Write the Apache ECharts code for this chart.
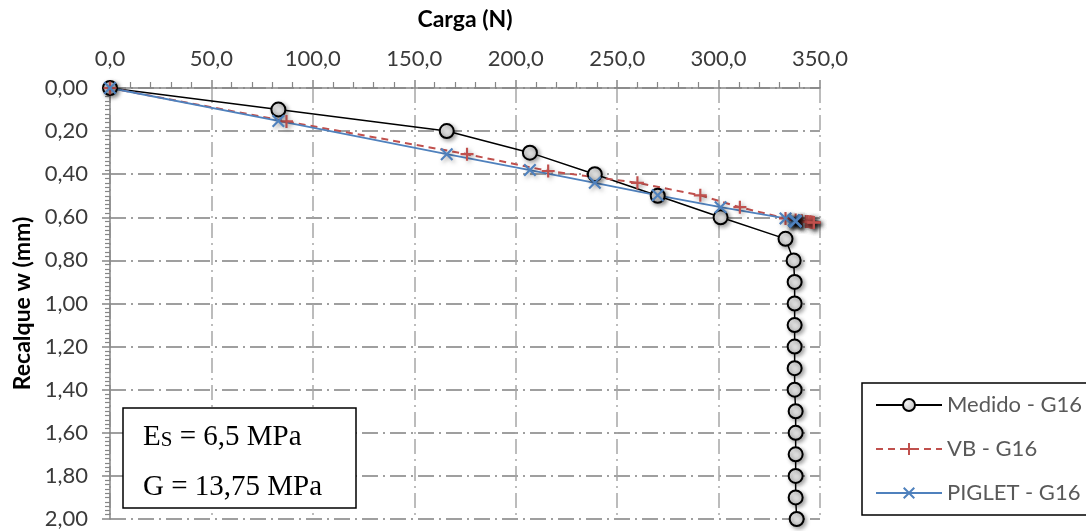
<!DOCTYPE html>
<html><head><meta charset="utf-8">
<script src="https://cdn.jsdelivr.net/npm/echarts@6/dist/echarts.min.js"></script>
<style>html,body{margin:0;padding:0;background:#fff}#c{width:1086px;height:531px}</style>
</head><body><div id="c"></div>
<script>
// ---- data ----
const seriesNames = ['Medido - G16', 'VB - G16', 'PIGLET - G16'];
const medidoX = [0, 83, 166, 207, 239, 270, 301, 333, 337, 337.5, 337.5, 337.5, 337.5, 337.5, 337.5, 338, 338, 338, 338, 338, 338.5];
const medidoY = [0, 0.10, 0.20, 0.30, 0.40, 0.50, 0.60, 0.70, 0.80, 0.90, 1.00, 1.10, 1.20, 1.30, 1.40, 1.50, 1.60, 1.70, 1.80, 1.90, 2.00];
const vbX = [0, 87, 176, 216, 260, 291, 310.5, 333, 338, 341, 343, 344, 345, 345.5, 346, 346.5, 347, 347, 347, 347, 347];
const vbY = [0, 0.155, 0.307, 0.385, 0.44, 0.498, 0.553, 0.605, 0.612, 0.616, 0.619, 0.62, 0.621, 0.622, 0.623, 0.623, 0.624, 0.624, 0.624, 0.624, 0.624];
const pigletX = [0, 83, 166, 207, 239, 270, 301, 333, 337, 337.5, 337.5, 337.5, 337.5, 337.5, 337.5, 338, 338, 338, 338, 338, 338];
const pigletY = [0, 0.153, 0.307, 0.381, 0.44, 0.498, 0.553, 0.605, 0.614, 0.616, 0.617, 0.617, 0.617, 0.617, 0.617, 0.618, 0.618, 0.618, 0.618, 0.618, 0.618];
const xAxisRange = [0, 350, 50];
const yAxisRange = [0, 2, 0.2];
const xTitle = 'Carga (N)';
const yTitle = 'Recalque w (mm)';
const noteLines = ['E', 'S', ' = 6,5 MPa', 'G = 13,75 MPa'];

const pairs = (xs, ys) => xs.map((x, i) => [x, ys[i]]);
const FONT = 'Lato';
const plusPath = 'path://M5,0H7V5H12V7H7V12H5V7H0V5H5Z';
const crossPath = 'path://M1.4,0L6,4.6L10.6,0L12,1.4L7.4,6L12,10.6L10.6,12L6,7.4L1.4,12L0,10.6L4.6,6L0,1.4Z';
const shadow = {shadowBlur: 4, shadowColor: 'rgba(0,0,0,0.35)', shadowOffsetX: 2, shadowOffsetY: 2};

const chart = echarts.init(document.getElementById('c'));
chart.setOption({
  animation: false,
  backgroundColor: '#fff',
  grid: {left: 110, right: 266, top: 88, bottom: 12},
  xAxis: {
    type: 'value', position: 'top', min: xAxisRange[0], max: xAxisRange[1], interval: xAxisRange[2],
    name: xTitle, nameLocation: 'middle', nameGap: 57,
    nameTextStyle: {fontFamily: FONT, fontWeight: 'bold', fontSize: 23, color: '#000'},
    axisLine: {show: true, onZero: false, lineStyle: {color: '#868686', width: 1.5}},
    axisTick: {show: true, inside: false, length: 8, lineStyle: {color: '#868686', width: 1.5}},
    minorTick: {show: true, splitNumber: 5, length: 6, lineStyle: {color: '#868686', width: 1.2}},
    axisLabel: {fontFamily: FONT, fontSize: 22, color: '#3a3a3a', margin: 18,
      formatter: v => v.toFixed(1).replace('.', ',')},
    splitLine: {show: true, lineStyle: {color: '#a6a6a6', width: 1.5, type: [15, 5, 2, 5]}}
  },
  yAxis: {
    type: 'value', inverse: true, min: yAxisRange[0], max: yAxisRange[1], interval: yAxisRange[2],
    name: yTitle, nameLocation: 'middle', nameGap: 74, nameRotate: 90,
    nameTextStyle: {fontFamily: FONT, fontWeight: 'bold', fontSize: 23, color: '#000'},
    axisLine: {show: true, onZero: false, lineStyle: {color: '#868686', width: 1.5}},
    axisTick: {show: true, length: 8, lineStyle: {color: '#868686', width: 1.5}},
    minorTick: {show: true, splitNumber: 10, length: 5, lineStyle: {color: '#868686', width: 1.2}},
    axisLabel: {fontFamily: FONT, fontSize: 22, color: '#3a3a3a', margin: 22,
      formatter: v => v.toFixed(2).replace('.', ',')},
    splitLine: {show: true, lineStyle: {color: '#808080', width: 1.5, type: [16, 5, 2, 5]}}
  },
  legend: {
    orient: 'vertical', left: 862, top: 383,
    padding: [11, 8, 11, 13], itemGap: 22, itemWidth: 66, itemHeight: 15, itemTextGap: 8,
    borderColor: '#000', borderWidth: 1.5, backgroundColor: '#fff',
    textStyle: {fontFamily: FONT, fontSize: 22, color: '#595959', lineHeight: 22},
    data: seriesNames
  },
  series: [
    {
      name: seriesNames[0], type: 'line', data: pairs(medidoX, medidoY),
      symbol: 'circle', symbolSize: 14,
      lineStyle: {color: '#000', width: 1.5},
      itemStyle: Object.assign({
        color: {type: 'radial', x: 0.35, y: 0.35, r: 0.75,
          colorStops: [{offset: 0, color: '#f4f4f4'}, {offset: 1, color: '#bdbdbd'}]},
        borderColor: '#000', borderWidth: 2}, shadow),
      emphasis: {disabled: true}
    },
    {
      name: seriesNames[1], type: 'line', data: pairs(vbX, vbY),
      symbol: plusPath, symbolSize: 13,
      lineStyle: {color: '#C0504D', width: 2, type: [7, 5]},
      itemStyle: Object.assign({color: '#C0504D'}, shadow),
      emphasis: {disabled: true}
    },
    {
      name: seriesNames[2], type: 'line', data: pairs(pigletX, pigletY),
      symbol: crossPath, symbolSize: 13,
      lineStyle: {color: '#4F81BD', width: 1.8},
      itemStyle: Object.assign({color: '#4F81BD'}, shadow),
      emphasis: {disabled: true}
    }
  ],
  graphic: [
    {type: 'rect', z: 100, shape: {x: 123, y: 408, width: 233, height: 100},
      style: {fill: '#fff', stroke: '#000', lineWidth: 1.5}},
    {type: 'text', z: 101, x: 143, y: 436,
      style: {text: '{a|' + noteLines[0] + '}{b|' + noteLines[1] + '}{a|' + noteLines[2] + '}',
        verticalAlign: 'middle', fill: '#000',
        rich: {a: {fontFamily: 'Liberation Serif', fontSize: 29, lineHeight: 32, verticalAlign: 'bottom'},
               b: {fontFamily: 'Liberation Serif', fontSize: 21, lineHeight: 32, verticalAlign: 'bottom', padding: [0, 0, 1, 0]}}}},
    {type: 'text', z: 101, x: 143, y: 487,
      style: {text: noteLines[3], verticalAlign: 'middle', fill: '#000',
        font: '29px "Liberation Serif"'}}
  ]
});
</script></body></html>
